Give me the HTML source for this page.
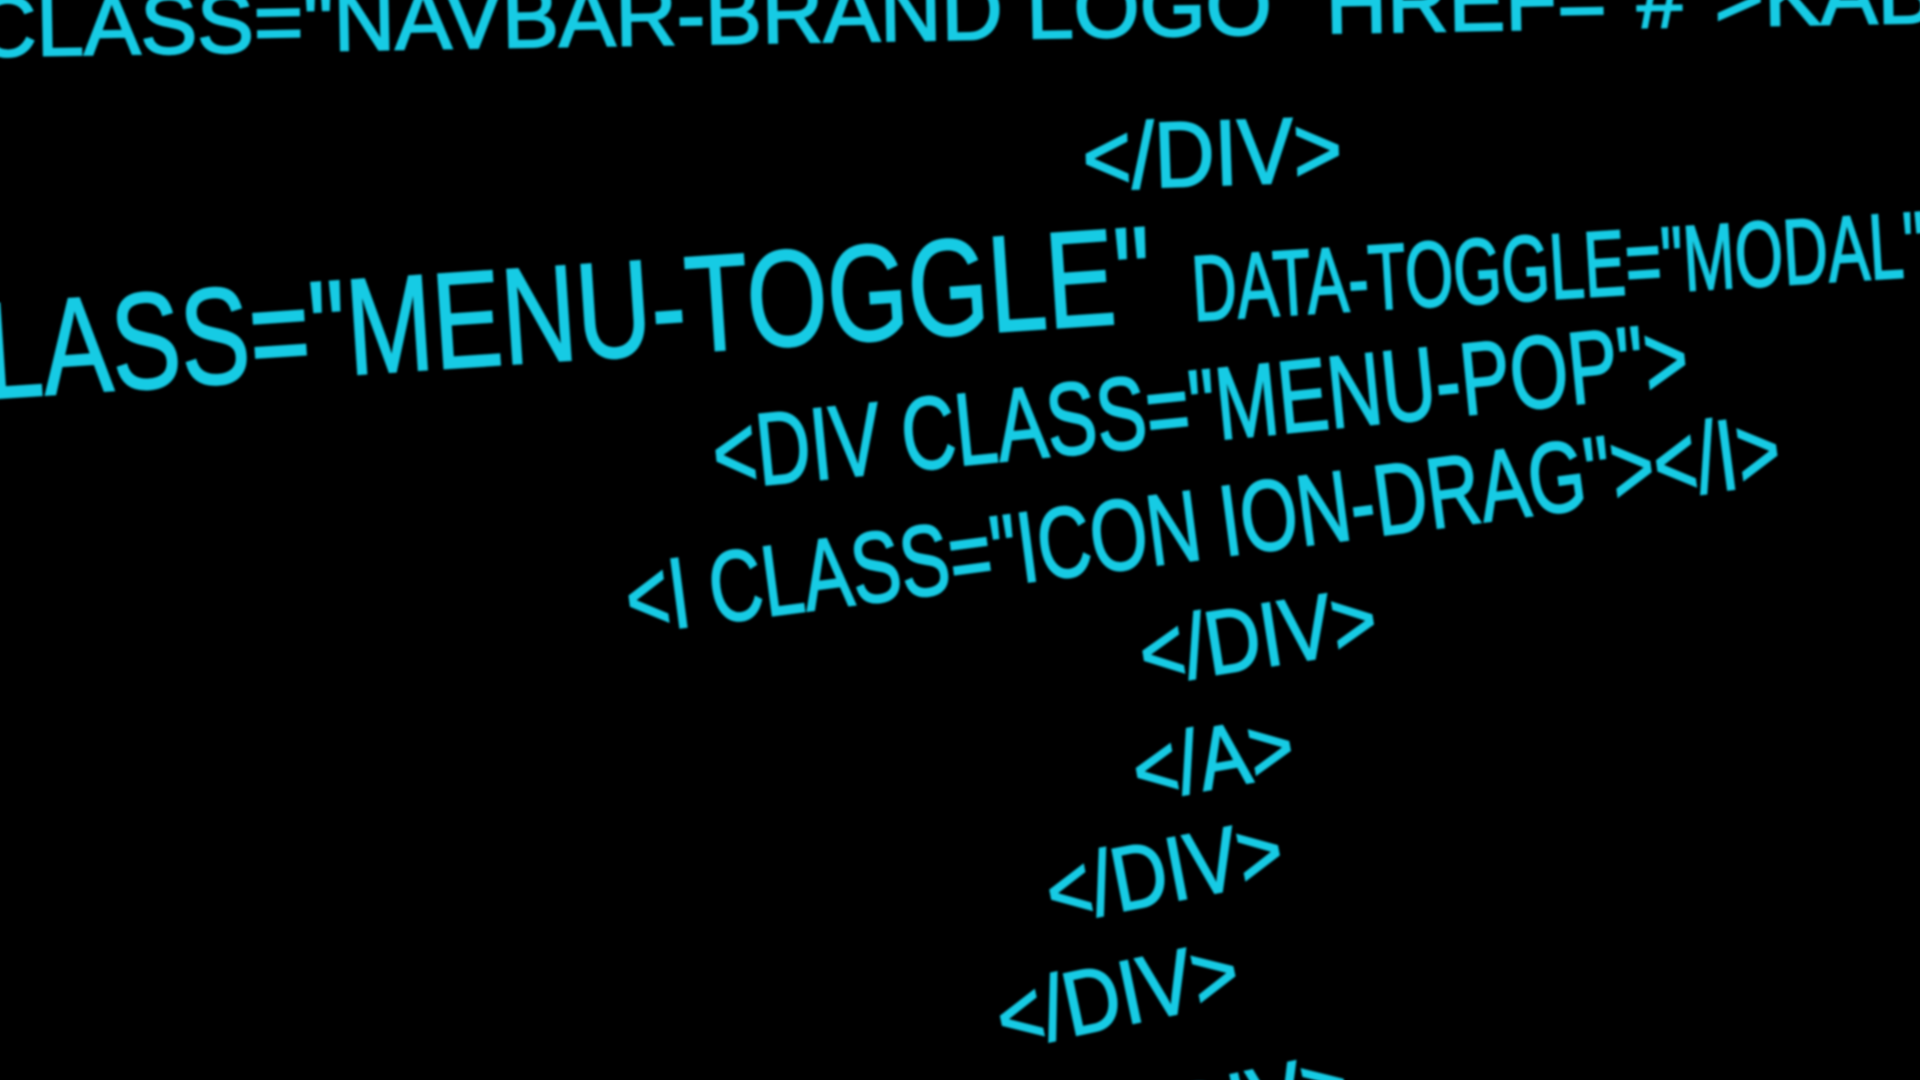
<!DOCTYPE html>
<html><head><meta charset="utf-8"><style>
html,body{margin:0;padding:0;background:#000;width:1920px;height:1080px;overflow:hidden}
svg{display:block}
text{font-family:"Liberation Sans",sans-serif;fill:#14cbe4;stroke:#14cbe4;stroke-width:1.6}
</style></head><body>
<svg width="1920" height="1080" viewBox="0 0 1568 882" preserveAspectRatio="none">
<defs><filter id="b"><feGaussianBlur stdDeviation="0.9"/></filter></defs>
<g filter="url(#b)">
<text x="-20" y="46" font-size="70" textLength="1600" lengthAdjust="spacingAndGlyphs" transform="rotate(-1 0 46)">CLASS="NAVBAR-BRAND LOGO" HREF="#"&gt;KAB</text>
<text x="885" y="155" font-size="76" textLength="212" lengthAdjust="spacingAndGlyphs" transform="rotate(-2 885 155)">&lt;/DIV&gt;</text>
<text x="-10" y="325" font-size="112" textLength="955" lengthAdjust="spacingAndGlyphs" transform="rotate(-3.8 0 325)">LASS="MENU-TOGGLE"</text>
<text x="975" y="262" font-size="76" textLength="600" lengthAdjust="spacingAndGlyphs" transform="rotate(-3.5 975 262)">DATA-TOGGLE="MODAL"</text>
<text x="585" y="400" font-size="84" textLength="800" lengthAdjust="spacingAndGlyphs" transform="rotate(-5.7 585 400)">&lt;DIV CLASS="MENU-POP"&gt;</text>
<text x="515" y="518" font-size="82" textLength="950" lengthAdjust="spacingAndGlyphs" transform="rotate(-7.5 515 518)">&lt;I CLASS="ICON ION-DRAG"&gt;&lt;/I&gt;</text>
<text x="935" y="560" font-size="74" textLength="195" lengthAdjust="spacingAndGlyphs" transform="rotate(-9 935 560)">&lt;/DIV&gt;</text>
<text x="930" y="655" font-size="72" textLength="132" lengthAdjust="spacingAndGlyphs" transform="rotate(-10 930 655)">&lt;/A&gt;</text>
<text x="860" y="755" font-size="74" textLength="195" lengthAdjust="spacingAndGlyphs" transform="rotate(-11 860 755)">&lt;/DIV&gt;</text>
<text x="820" y="858" font-size="74" textLength="200" lengthAdjust="spacingAndGlyphs" transform="rotate(-12 820 858)">&lt;/DIV&gt;</text>
<text x="910" y="950" font-size="74" textLength="200" lengthAdjust="spacingAndGlyphs" transform="rotate(-12 910 950)">&lt;/DIV&gt;</text>
</g>
</svg>
</body></html>
